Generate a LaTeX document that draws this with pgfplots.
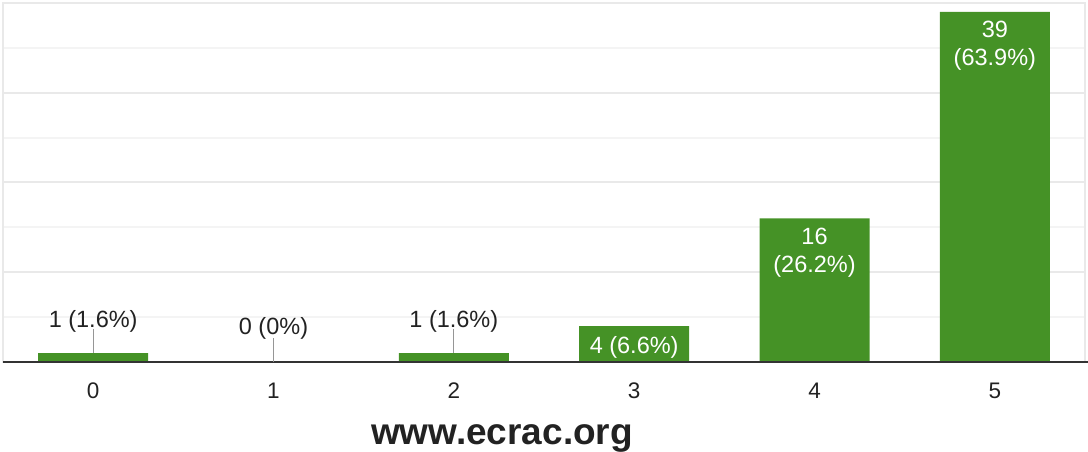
\documentclass[border=0pt]{standalone}
\usepackage{fontspec}
\setmainfont{Liberation Sans}
\usepackage{pgfplots}
\pgfplotsset{compat=1.18}
\definecolor{bargreen}{RGB}{69,146,38}
\definecolor{majgrid}{RGB}{233,233,233}
\definecolor{mingrid}{RGB}{244,244,244}
\definecolor{axisdark}{RGB}{51,51,51}
\definecolor{labeldark}{RGB}{34,34,34}
\definecolor{leader}{RGB}{150,150,150}
\begin{document}
\begin{tikzpicture}
\begin{axis}[
  scale only axis, width=1082pt, height=359pt,
  xmin=-0.5, xmax=5.5, ymin=0, ymax=40,
  xtick={0,1,2,3,4,5},
  ytick={0,10,20,30,40}, minor ytick={5,15,25,35},
  yticklabels={},
  /pgf/number format/assume math mode=true,
  major tick length=0pt, minor tick length=0pt,
  ymajorgrids, yminorgrids,
  major grid style={draw=majgrid, line width=2pt},
  minor grid style={draw=mingrid, line width=2pt},
  axis line style={draw=majgrid, line width=2pt},
  x tick label style={font=\fontsize{22.5}{26}\selectfont, text=labeldark, anchor=base, yshift=-36pt},
  clip=false,
]
\addplot[ybar, bar width=110pt, fill=bargreen, draw=none] coordinates {(0,1) (1,0) (2,1) (3,4) (4,16) (5,39)};

\draw[axisdark, line width=2pt] (rel axis cs:0,0) -- ([xshift=3pt]rel axis cs:1,0);

% leaders and outside labels
\draw[leader, line width=1.3pt] (axis cs:0,1) -- ([yshift=24pt]axis cs:0,1);
\node[anchor=base, font=\fontsize{23.5}{28}\selectfont, text=labeldark] at ([yshift=26pt]axis cs:0,1) {1 (1.6\%)};
\draw[leader, line width=1.3pt] (axis cs:1,0) -- ([yshift=24pt]axis cs:1,0);
\node[anchor=base, font=\fontsize{23.5}{28}\selectfont, text=labeldark] at ([yshift=28pt]axis cs:1,0) {0 (0\%)};
\draw[leader, line width=1.3pt] (axis cs:2,1) -- ([yshift=24pt]axis cs:2,1);
\node[anchor=base, font=\fontsize{23.5}{28}\selectfont, text=labeldark] at ([yshift=26pt]axis cs:2,1) {1 (1.6\%)};

% inside labels
\node[anchor=base, font=\fontsize{23.5}{28}\selectfont, text=white] at ([yshift=-27pt]axis cs:3,4) {4 (6.6\%)};
\node[anchor=base, font=\fontsize{23.5}{28}\selectfont, text=white] at ([yshift=-26pt]axis cs:4,16) {16};
\node[anchor=base, font=\fontsize{23.5}{28}\selectfont, text=white] at ([yshift=-54pt]axis cs:4,16) {(26.2\%)};
\node[anchor=base, font=\fontsize{23.5}{28}\selectfont, text=white] at ([yshift=-26pt]axis cs:5,39) {39};
\node[anchor=base, font=\fontsize{23.5}{28}\selectfont, text=white] at ([yshift=-54pt]axis cs:5,39) {(63.9\%)};

% watermark title
\node[anchor=base, font=\fontsize{37}{44}\selectfont\bfseries, text=labeldark] at ([yshift=-82pt]axis cs:2.267,0) {www.ecrac.org};

\coordinate (bl) at (rel axis cs:0,0);
\coordinate (tr) at (rel axis cs:1,1);
\end{axis}
\pgfresetboundingbox
\path ([shift={(-3pt,-89pt)}]bl) rectangle ([shift={(3pt,3pt)}]tr);
\end{tikzpicture}
\end{document}
